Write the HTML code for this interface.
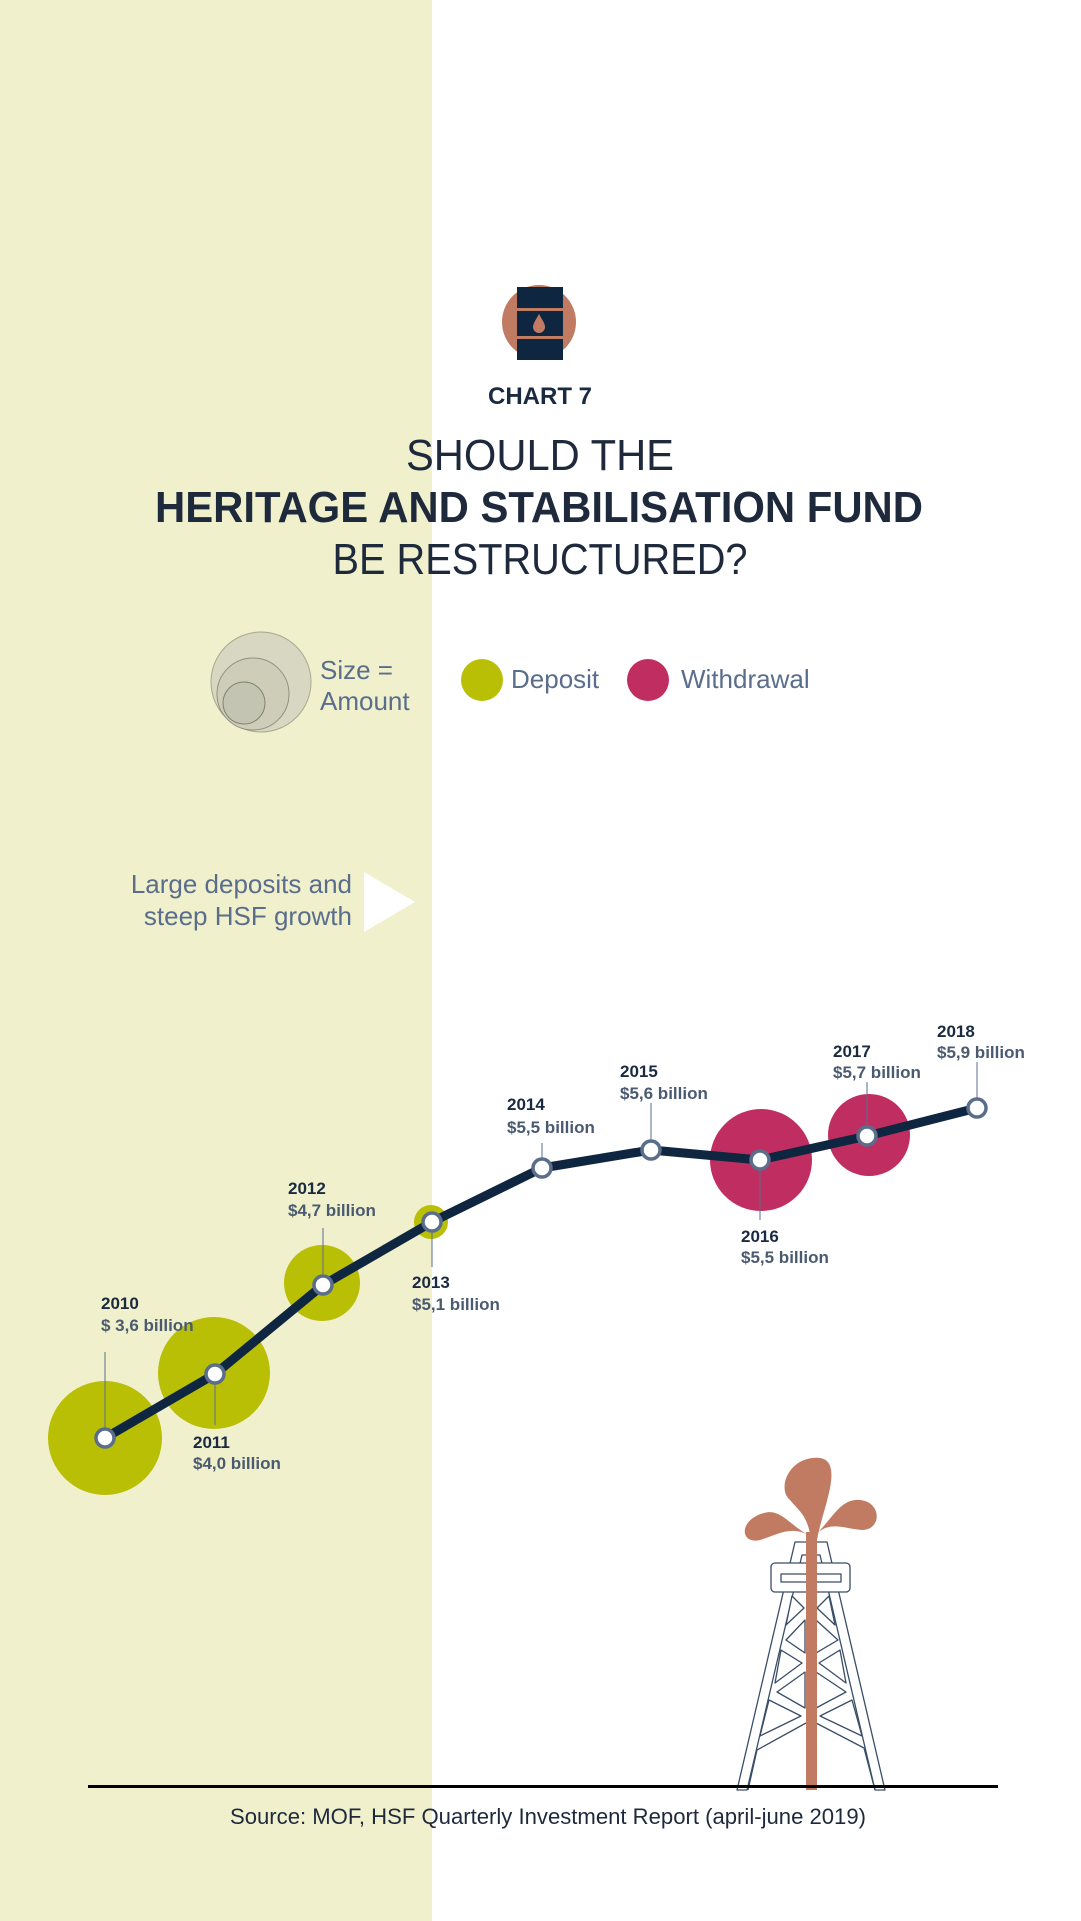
<!DOCTYPE html>
<html><head><meta charset="utf-8"><style>
html,body{margin:0;padding:0;background:#fff}
svg{display:block}
text{font-family:"Liberation Sans",sans-serif}
</style></head><body>
<svg width="1081" height="1921" viewBox="0 0 1081 1921" xmlns="http://www.w3.org/2000/svg">
<rect x="0" y="0" width="432" height="1921" fill="#f0f0cd"/>
<circle cx="539" cy="322" r="37" fill="#c07b62"/>
<rect x="517" y="287" width="46" height="73" fill="#0e2640"/>
<rect x="517" y="308" width="46" height="3" fill="#c07b62"/>
<rect x="517" y="336" width="46" height="3" fill="#c07b62"/>
<path d="M539 314 C535 321 533 324 533 327 A6 6 0 0 0 545 327 C545 324 543 321 539 314Z" fill="#c07b62"/>
<text x="540" y="404" text-anchor="middle" font-size="24" font-weight="bold" fill="#1a2a40">CHART 7</text>
<text x="540" y="470" text-anchor="middle" font-size="44" fill="#1e2a3c" textLength="268" lengthAdjust="spacingAndGlyphs">SHOULD THE</text>
<text x="539" y="522" text-anchor="middle" font-size="44" font-weight="bold" fill="#1e2a3c" textLength="768" lengthAdjust="spacingAndGlyphs">HERITAGE AND STABILISATION FUND</text>
<text x="540" y="574" text-anchor="middle" font-size="44" fill="#1e2a3c" textLength="415" lengthAdjust="spacingAndGlyphs">BE RESTRUCTURED?</text>
<circle cx="261" cy="682" r="50" fill="#d8d8c2" stroke="#a8a890" stroke-width="1"/>
<circle cx="253" cy="694" r="36" fill="#cdcdb8" stroke="#909080" stroke-width="1"/>
<circle cx="244" cy="703" r="21" fill="#c4c4b2" stroke="#808070" stroke-width="1"/>
<text x="320" y="679" font-size="26" fill="#5a6e8c">Size =</text>
<text x="320" y="710" font-size="26" fill="#5a6e8c">Amount</text>
<circle cx="482" cy="680" r="21" fill="#b9bf05"/>
<text x="511" y="688" font-size="26" fill="#5a6e8c">Deposit</text>
<circle cx="648" cy="680" r="21" fill="#c02e61"/>
<text x="681" y="688" font-size="26" fill="#5a6e8c">Withdrawal</text>
<text x="352" y="893" text-anchor="end" font-size="26" fill="#5a6e8c">Large deposits and</text>
<text x="352" y="925" text-anchor="end" font-size="26" fill="#5a6e8c">steep HSF growth</text>
<polygon points="364,872 415,902 364,932" fill="#fff"/>
<circle cx="105" cy="1438" r="57" fill="#b9bf05"/>
<circle cx="214" cy="1373" r="56" fill="#b9bf05"/>
<circle cx="322" cy="1283" r="38" fill="#b9bf05"/>
<circle cx="431" cy="1222" r="17" fill="#b9bf05"/>
<circle cx="761" cy="1160" r="51" fill="#c02e61"/>
<circle cx="869" cy="1135" r="41" fill="#c02e61"/>
<g stroke="#5a6e8c" stroke-width="1">
<line x1="105" y1="1352" x2="105" y2="1438"/>
<line x1="215" y1="1373" x2="215" y2="1425"/>
<line x1="323" y1="1228" x2="323" y2="1283"/>
<line x1="432" y1="1222" x2="432" y2="1267"/>
<line x1="542" y1="1143" x2="542" y2="1167"/>
<line x1="651" y1="1103" x2="651" y2="1148"/>
<line x1="760" y1="1160" x2="760" y2="1220"/>
<line x1="867" y1="1082" x2="867" y2="1135"/>
<line x1="977" y1="1062" x2="977" y2="1107"/>
</g>
<polyline points="105,1438 215,1374 323,1285 432,1222 542,1168 651,1150 760,1160 867,1136 977,1108" fill="none" stroke="#0e2640" stroke-width="9" stroke-linejoin="round"/>
<g fill="#fff" stroke="#5a6e8c" stroke-width="3.5">
<circle cx="105" cy="1438" r="9"/><circle cx="215" cy="1374" r="9"/><circle cx="323" cy="1285" r="9"/>
<circle cx="432" cy="1222" r="9"/><circle cx="542" cy="1168" r="9"/><circle cx="651" cy="1150" r="9"/>
<circle cx="760" cy="1160" r="9"/><circle cx="867" cy="1136" r="9"/><circle cx="977" cy="1108" r="9"/>
</g>
<g font-size="17" font-weight="bold">
<text x="101" y="1309" fill="#1a2a40">2010</text><text x="101" y="1331" fill="#4a5a70">$ 3,6 billion</text>
<text x="193" y="1448" fill="#1a2a40">2011</text><text x="193" y="1469" fill="#4a5a70">$4,0 billion</text>
<text x="288" y="1194" fill="#1a2a40">2012</text><text x="288" y="1216" fill="#4a5a70">$4,7 billion</text>
<text x="412" y="1288" fill="#1a2a40">2013</text><text x="412" y="1310" fill="#4a5a70">$5,1 billion</text>
<text x="507" y="1110" fill="#1a2a40">2014</text><text x="507" y="1133" fill="#4a5a70">$5,5 billion</text>
<text x="620" y="1077" fill="#1a2a40">2015</text><text x="620" y="1099" fill="#4a5a70">$5,6 billion</text>
<text x="741" y="1242" fill="#1a2a40">2016</text><text x="741" y="1263" fill="#4a5a70">$5,5 billion</text>
<text x="833" y="1057" fill="#1a2a40">2017</text><text x="833" y="1078" fill="#4a5a70">$5,7 billion</text>
<text x="937" y="1037" fill="#1a2a40">2018</text><text x="937" y="1058" fill="#4a5a70">$5,9 billion</text>
</g>
<g fill="#fff" stroke="#3a4e68" stroke-width="1.3" stroke-linejoin="round">
<polygon points="795,1542 827,1542 885,1790 875,1790 820,1555 802,1555 747,1790 737,1790"/>
<rect x="771" y="1563" width="79" height="29" rx="4"/>
<rect x="781" y="1574" width="60" height="8"/>
<polygon points="792,1596 804,1608 786,1625"/>
<polygon points="829,1596 817,1608 835,1625"/>
<polygon points="805,1620 786,1640 805,1653"/>
<polygon points="816,1620 838,1640 816,1653"/>
<polygon points="781,1650 802,1663 775,1683"/>
<polygon points="840,1650 819,1663 846,1683"/>
<polygon points="805,1672 777,1692 805,1708"/>
<polygon points="816,1672 846,1692 816,1708"/>
<polygon points="769,1700 801,1716 760,1736"/>
<polygon points="852,1700 820,1716 862,1736"/>
<polyline points="806,1723 757,1750 748,1790" fill="none"/>
<polyline points="816,1723 864,1748 875,1790" fill="none"/>
</g>
<rect x="806" y="1532" width="11" height="258" fill="#c07b62"/>
<path d="M811 1540 C808 1515 798 1510 790 1500 C776 1488 790 1455 820 1458 C845 1462 822 1510 817 1540 Z" fill="#c07b62"/>
<path d="M808 1535 C790 1525 780 1508 764 1513 C738 1520 740 1545 760 1540 C775 1536 790 1525 808 1535Z" fill="#c07b62"/>
<path d="M815 1535 C832 1520 840 1498 860 1500 C882 1502 882 1530 862 1530 C845 1529 830 1520 815 1535Z" fill="#c07b62"/>
<rect x="88" y="1785" width="910" height="3" fill="#000"/>
<text x="548" y="1824" text-anchor="middle" font-size="22" fill="#1e2a3c" textLength="636" lengthAdjust="spacingAndGlyphs">Source: MOF, HSF Quarterly Investment Report (april-june 2019)</text>
</svg>
</body></html>
